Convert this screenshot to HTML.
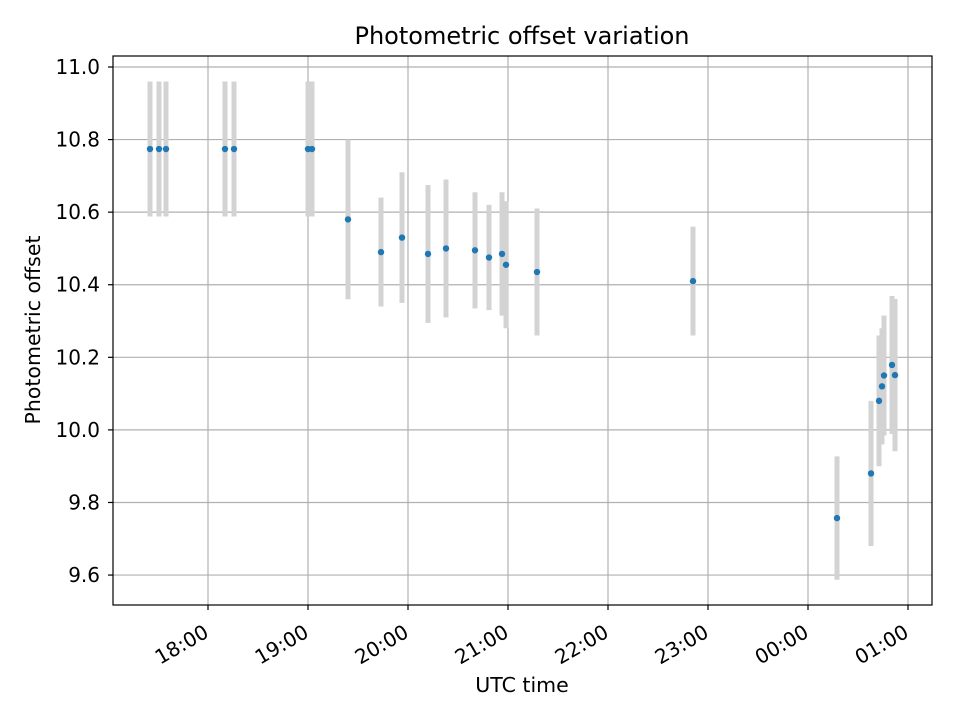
<!DOCTYPE html>
<html><head><meta charset="utf-8"><style>
body{margin:0;background:#fff}
svg{display:block;font-family:"DejaVu Sans","Liberation Sans",sans-serif}
</style></head><body>
<svg id="chart" width="960" height="720">
<rect width="960" height="720" fill="#fff"/>
<g id="grid"></g><g id="bars"></g><g id="pts"></g>
<rect x="113" y="56" width="819" height="549" fill="none" stroke="#000" stroke-width="1.2"/>
<g id="axes"></g>
<text x="522" y="44" text-anchor="middle" font-size="24">Photometric offset variation</text>
<text x="522" y="692" text-anchor="middle" font-size="20.5">UTC time</text>
<text transform="translate(40,330) rotate(-90)" text-anchor="middle" font-size="20.5">Photometric offset</text>
</svg>
<script>
// minutes after 18:00 UTC
const times=[-34.8,-29.4,-25.2,10.2,15.6,60,62.4,84,103.8,116.4,132,142.8,160.2,168.6,176.4,178.8,197.4,291,377.4,397.8,402.6,404.4,405.6,410.4,412.2];
const offsets=[10.774,10.774,10.774,10.774,10.774,10.774,10.774,10.58,10.49,10.53,10.485,10.5,10.495,10.475,10.485,10.455,10.435,10.41,9.757,9.88,10.08,10.12,10.15,10.179,10.151];
const errors=[0.186,0.186,0.186,0.186,0.186,0.186,0.186,0.22,0.15,0.18,0.19,0.19,0.16,0.145,0.17,0.175,0.175,0.15,0.17,0.2,0.18,0.16,0.165,0.19,0.21];
const yTicks=[9.6,9.8,10.0,10.2,10.4,10.6,10.8,11.0];
const xTickMinutes=[0,60,120,180,240,300,360,420];
const xTickLabels=["18:00","19:00","20:00","21:00","22:00","23:00","00:00","01:00"];
const NS="http://www.w3.org/2000/svg";
const X=m=>208+m*100/60;
const Y=v=>67+(11-v)*362.9;
function mk(p,t,a){const e=document.createElementNS(NS,t);for(const k in a)e.setAttribute(k,a[k]);document.getElementById(p).appendChild(e);return e;}
yTicks.forEach((v,i)=>{
 const g=mk('grid','line',{x1:113,x2:932,y1:Y(v),y2:Y(v),stroke:'#b0b0b0','stroke-width':1.2});
 
 
 const t=mk('axes','line',{x1:108,x2:113,y1:Y(v),y2:Y(v),stroke:'#000','stroke-width':1.2});
 
 
 const l=mk('axes','text',{x:100,y:Y(v)+7,'text-anchor':'end','font-size':20});
 l.textContent=v.toFixed(1);
 
 
});
xTickMinutes.forEach((m,i)=>{
 const x=X(m);
 const g=mk('grid','line',{x1:x,x2:x,y1:56,y2:605,stroke:'#b0b0b0','stroke-width':1.2});
 
 
 const t=mk('axes','line',{x1:x,x2:x,y1:605,y2:610,stroke:'#000','stroke-width':1.2});
 
 
 const l=mk('axes','text',{transform:`translate(${x+2},636) rotate(-30)`,'text-anchor':'end','font-size':20});
 l.textContent=xTickLabels[i];
 
 
});
times.forEach((m,i)=>{
 const x=X(m);
 const b=mk('bars','line',{x1:x,x2:x,y1:Y(offsets[i]+errors[i]),y2:Y(offsets[i]-errors[i]),stroke:'#d3d3d3','stroke-width':5});
 
 
 const c=mk('pts','circle',{cx:x,cy:Y(offsets[i]),r:3.2,fill:'#1f77b4'});
 
 
});
</script>
</body></html>
